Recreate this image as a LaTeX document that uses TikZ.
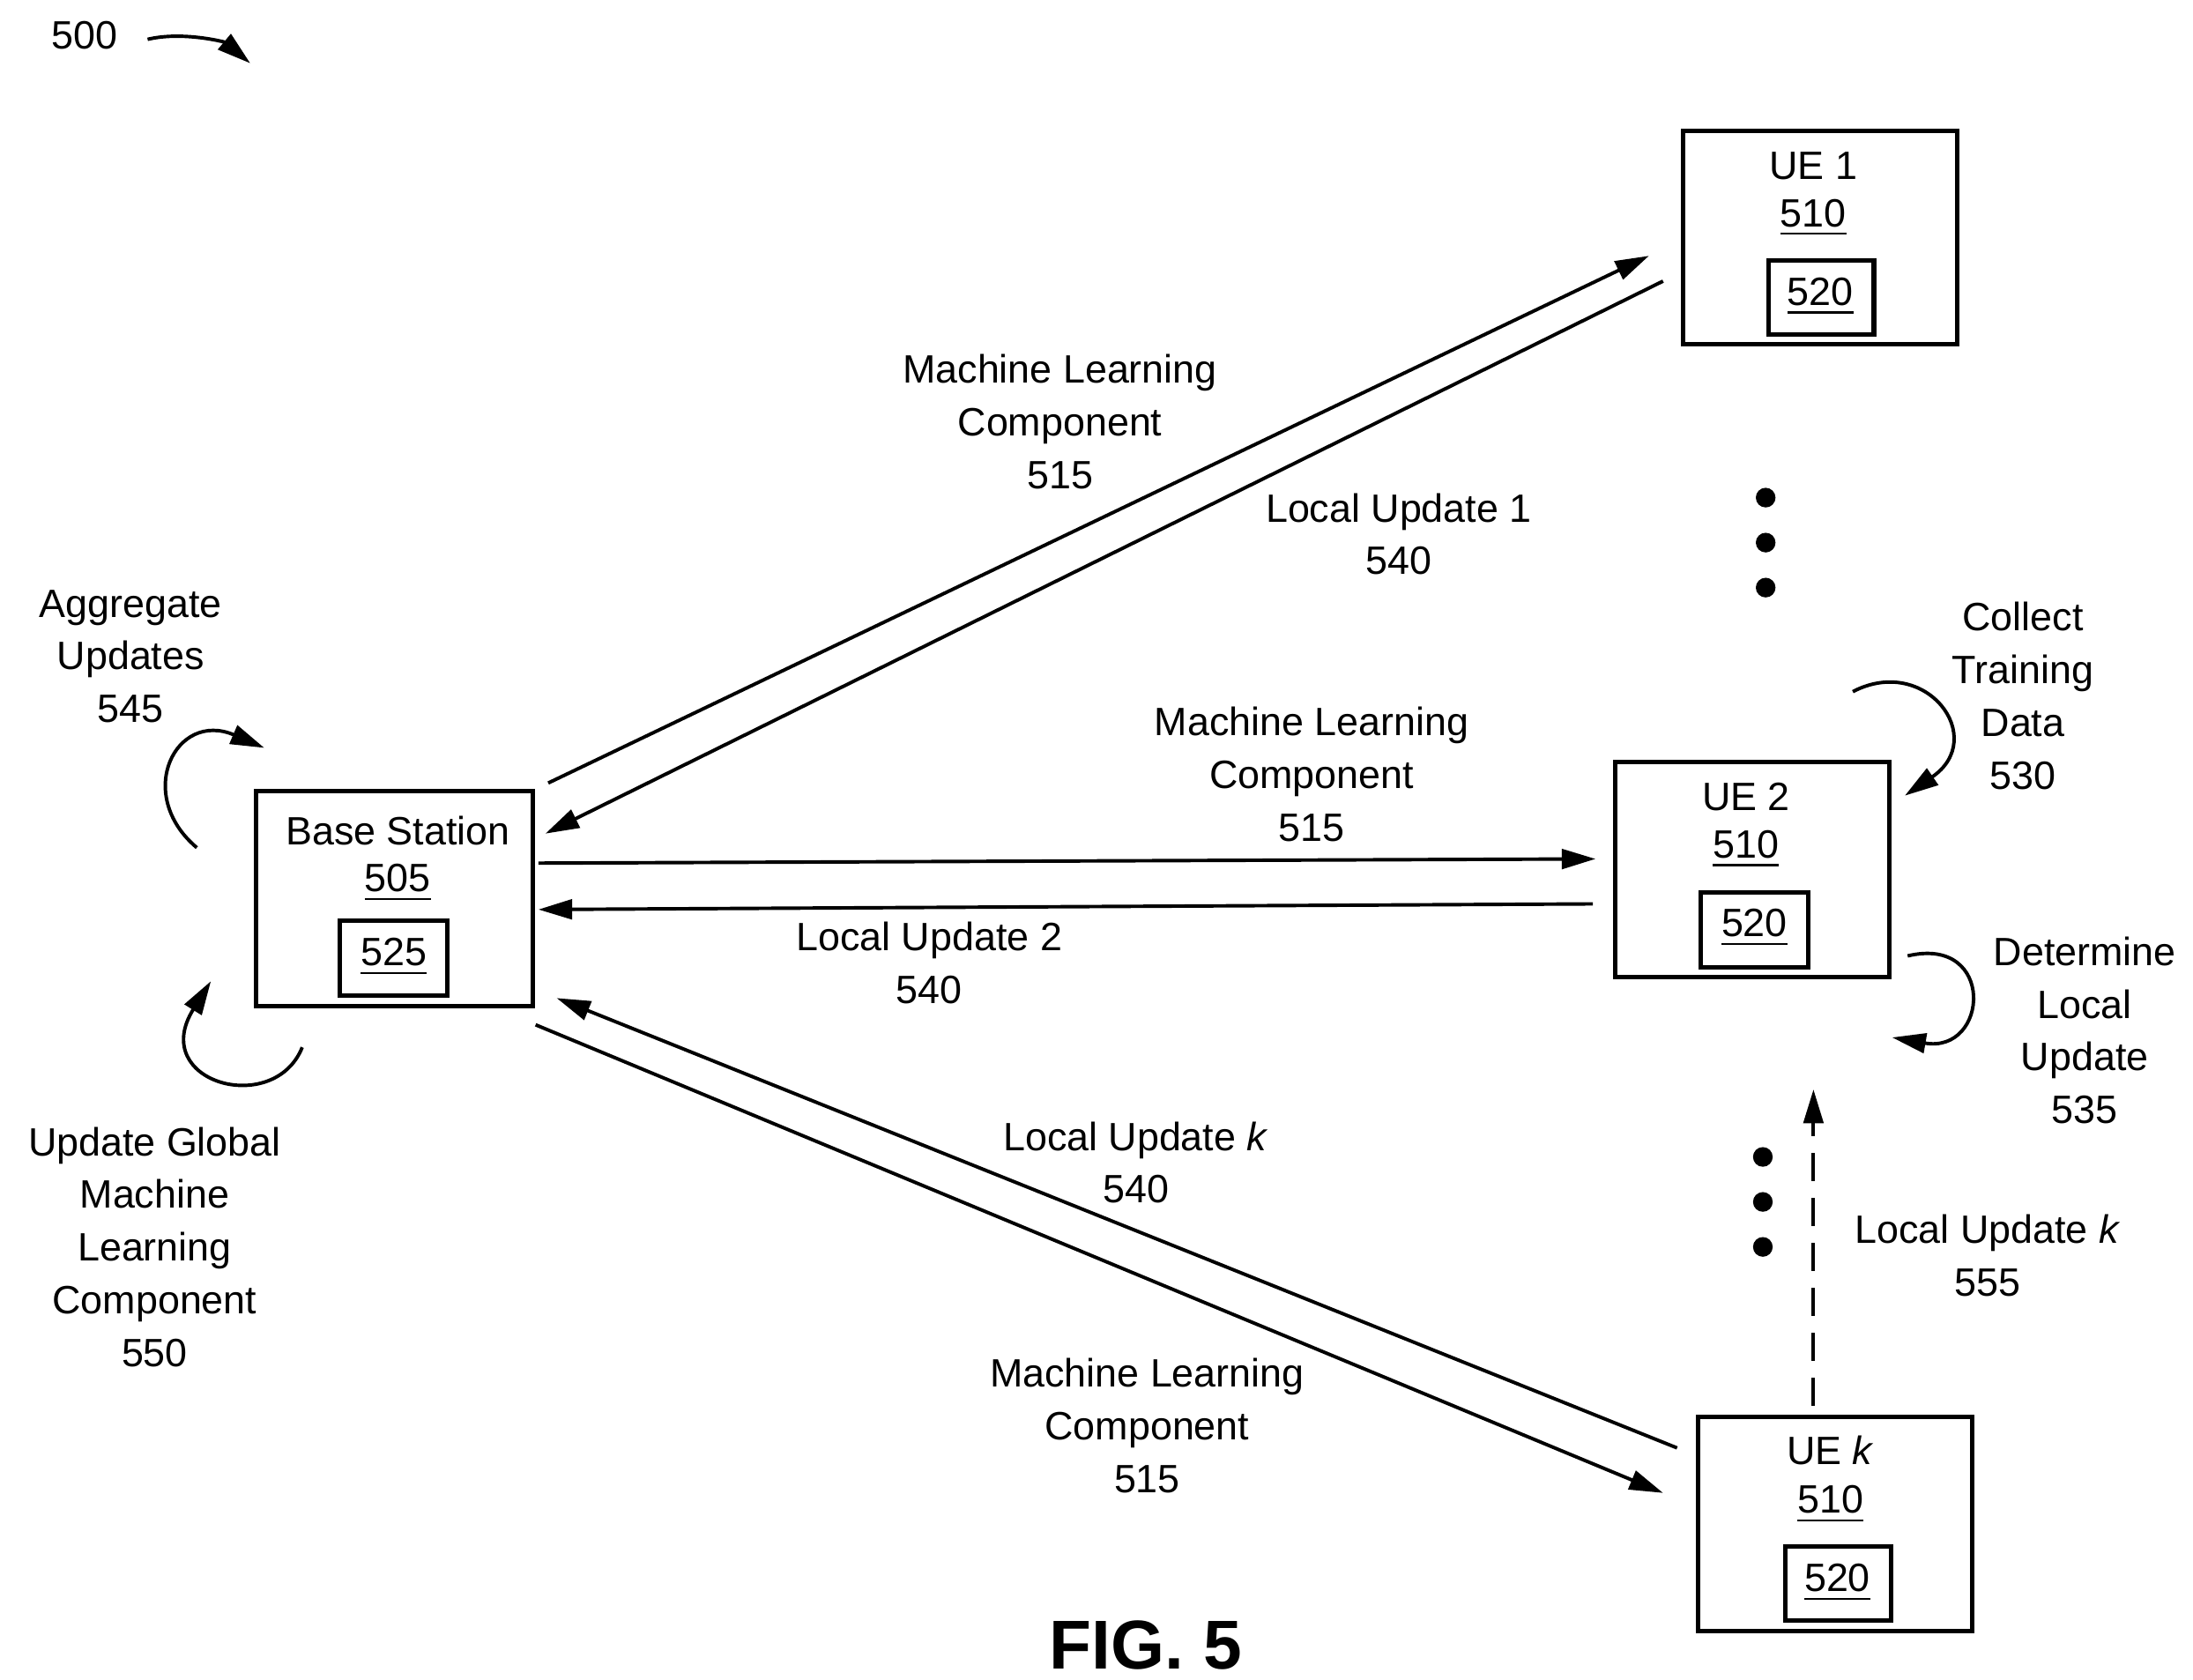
\documentclass[tikz,border=0pt]{standalone}
\usepackage{fontspec}
\setmainfont{Liberation Sans}
\usetikzlibrary{arrows.meta}
\begin{document}
\begin{tikzpicture}[x=0.1mm,y=-0.1mm,
  lbl/.style={align=center,font=\fontsize{8}{10.67}\selectfont,inner sep=0},
  box/.style={draw,line width=0.9pt},
  con/.style={line width=0.7pt,-{Triangle[length=2.4mm,width=1.4mm]}},
  dot/.style={circle,fill,inner sep=0,minimum size=1.4mm}]
\useasboundingbox (0,0) rectangle (1560,1195);
% boxes
\draw[box] (1197,93) rectangle (1392,245);
\draw[box] (1258,185) rectangle (1333,238);
\node[lbl] (ue1) at (1290,118) {UE 1};
\node[lbl] at (1290,155) {\underline{510}};
\node[lbl] at (1295,211) {\underline{520}};
\draw[box] (1149,542) rectangle (1344,695);
\draw[box] (1210,635) rectangle (1286,688);
\node[lbl] (ue2) at (1242,567) {UE 2};
\node[lbl] at (1242,604) {\underline{510}};
\node[lbl] at (1248,660) {\underline{520}};
\draw[box] (1208,1008) rectangle (1403,1160);
\draw[box] (1270,1100) rectangle (1345,1153);
\node[lbl] (uek) at (1302,1032) {UE \textit{k}};
\node[lbl] at (1302,1070) {\underline{510}};
\node[lbl] at (1307,1126) {\underline{520}};
\draw[box] (182,563) rectangle (379,716);
\draw[box] (242,655) rectangle (318,708);
\node[lbl] (bs) at (283,591) {Base Station};
\node[lbl] at (283,628) {\underline{505}};
\node[lbl] at (280,681) {\underline{525}};
% endpoints
\coordinate (a1) at (390,557); \coordinate (a2) at (1173,182);
\coordinate (b1) at (1183,200); \coordinate (b2) at (388,593);
\coordinate (c1) at (383,614); \coordinate (c2) at (1135,611);
\coordinate (d1) at (1133,643); \coordinate (d2) at (383,647);
\coordinate (e1) at (1193,1030); \coordinate (e2) at (396,710);
\coordinate (f1) at (381,729); \coordinate (f2) at (1183,1062);
\coordinate (g1) at (1290,1000); \coordinate (g2) at (1290,775);
\draw[con] (a1) -- (a2);
\draw[con] (b1) -- (b2);
\draw[con] (c1) -- (c2);
\draw[con] (d1) -- (d2);
\draw[con] (e1) -- (e2);
\draw[con] (f1) -- (f2);
\draw[con,dashed,dash pattern=on 2mm off 1.2mm] (g1) -- (g2);
% curved
\coordinate (h1) at (140,603); \coordinate (h2) at (188,532);
\draw[con] (h1) .. controls (95,565) and (125,505) .. (h2);
\coordinate (i1) at (215,745); \coordinate (i2) at (150,698);
\draw[con] (i1) .. controls (195,795) and (105,770) .. (i2);
\coordinate (j1) at (1318,492); \coordinate (j2) at (1355,566);
\draw[con] (j1) .. controls (1370,465) and (1415,525) .. (j2);
\coordinate (k1) at (1357,680); \coordinate (k2) at (1346,738);
\draw[con] (k1) .. controls (1420,665) and (1415,750) .. (k2);
\coordinate (m1) at (105,28); \coordinate (m2) at (178,45);
\draw[con] (m1) .. controls (130,22) and (160,30) .. (m2);
% dots
\foreach \y in {354,386,418} \node[dot] at (1256,\y) {};
\foreach \y in {823,855,887} \node[dot] at (1254,\y) {};
% labels
\node[lbl] at (60,25) {500};
\node[lbl] at (93,467) {Aggregate\\Updates\\545};
\node[lbl] at (110,887) {Update Global\\Machine\\Learning\\Component\\550};
\node[lbl] at (754,300) {Machine Learning\\Component\\515};
\node[lbl] at (995,380) {Local Update 1\\540};
\node[lbl] at (933,551) {Machine Learning\\Component\\515};
\node[lbl] at (661,685) {Local Update 2\\540};
\node[lbl] at (808,827) {Local Update \textit{k}\\540};
\node[lbl] at (816,1014) {Machine Learning\\Component\\515};
\node[lbl] at (1439,495) {Collect\\Training\\Data\\530};
\node[lbl] at (1483,733) {Determine\\Local\\Update\\535};
\node[lbl] at (1414,893) {Local Update \textit{k}\\555};
\node[lbl,font=\fontsize{14}{16}\selectfont\bfseries] at (815,1170) {FIG. 5};
\end{tikzpicture}
\end{document}
